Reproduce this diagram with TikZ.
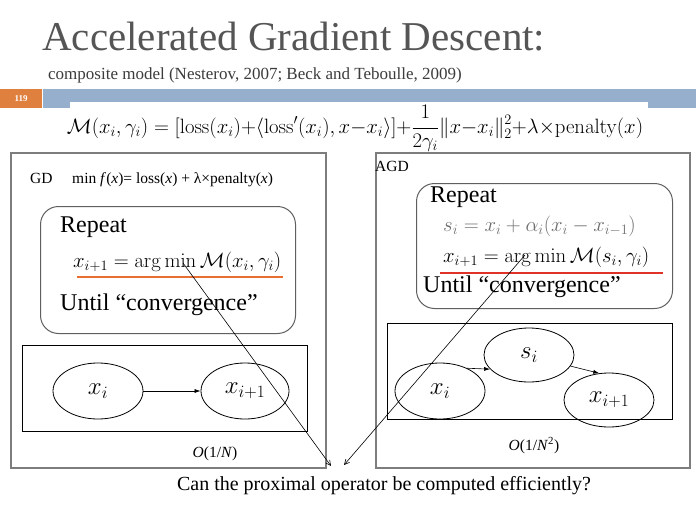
\documentclass[tikz,border=0pt]{standalone}
\usepackage[no-math]{fontspec}
\setmainfont{Liberation Serif}
\usetikzlibrary{arrows.meta,shapes.geometric}
\definecolor{titlegray}{RGB}{85,85,85}
\definecolor{subgray}{RGB}{60,60,60}
\definecolor{barblue}{RGB}{150,175,205}
\definecolor{pnorange}{RGB}{224,128,62}
\definecolor{boxgray}{RGB}{125,125,125}
\definecolor{rbgray}{RGB}{95,95,95}
\definecolor{ulorange}{RGB}{232,110,50}
\definecolor{ulred}{RGB}{225,50,40}
\definecolor{fadegray}{RGB}{110,110,110}
\begin{document}
\begin{tikzpicture}[x=1pt,y=-1pt,
  outerbox/.style={draw=boxgray, line width=1.6pt, anchor=north west, inner sep=0pt},
  repbox/.style={draw=rbgray, line width=1pt, rounded corners=18pt, anchor=north west, inner sep=0pt},
  diagbox/.style={draw=black, line width=0.9pt, anchor=north west, inner sep=0pt},
  elnode/.style={draw=black, ellipse, line width=0.8pt, inner sep=0pt, font=\fontsize{25}{28}\selectfont},
  txt/.style={anchor=base west, inner sep=0pt},
  sm/.style={font=\fontsize{15.5}{18}\selectfont},
  big/.style={font=\fontsize{24}{28}\selectfont},
  mth/.style={font=\fontsize{21.5}{25}\selectfont},
  arr/.style={-{Latex[length=6pt,width=4pt]}, line width=0.6pt},
  longarr/.style={-{Straight Barb[length=5pt,width=5pt]}, line width=0.6pt}
]
\useasboundingbox (0,0) rectangle (696,506);
\fill[white] (0,0) rectangle (696,506);

% header
\node[txt, text=titlegray, font=\fontsize{41}{44}\selectfont] (title) at (42,50) {Accelerated Gradient Descent:};
\node[txt, text=subgray, font=\fontsize{17}{19}\selectfont] (subtitle) at (48,79) {composite model (Nesterov, 2007; Beck and Teboulle, 2009)};
\fill[barblue] (43,89) rectangle (696,108);
\fill[white] (70,102) rectangle (648,108);
\node[fill=pnorange, text=white, font=\fontsize{9}{9}\selectfont\bfseries, minimum width=42pt, minimum height=19pt, inner sep=0pt, anchor=north west] (pagenum) at (0,89) {119};

\node[anchor=base, inner sep=0pt, font=\fontsize{20}{24}\selectfont] (formula) at (355,133)
 {$\mathcal{M}(x_i,\gamma_i)=[\mathrm{loss}(x_i){+}\langle \mathrm{loss}'(x_i),x{-}x_i\rangle]{+}\displaystyle\frac{1}{2\gamma_i}\|x{-}x_i\|_2^2{+}\lambda{\times}\mathrm{penalty}(x)$};

% GD panel
\node[outerbox, minimum width=315pt, minimum height=315pt] (gdbox) at (10,152) {};
\node[txt, sm] (gdlabel) at (30,183) {GD};
\node[txt, sm] (gdobj) at (72,183) {min \textit{f}(\textit{x})= loss(\textit{x}) + λ×penalty(\textit{x})};
\node[repbox, minimum width=255pt, minimum height=127pt] (gdrep) at (40,206) {};
\node[txt, big] (gdrepeat) at (60,232) {Repeat};
\node[txt, mth] (gdupd) at (73,267) {$x_{i+1}=\arg\min\mathcal{M}(x_i,\gamma_i)$};
\draw[ulorange, line width=1.5pt] (77,277) -- (283,277);
\node[txt, big] (gduntil) at (60,310) {Until “convergence”};
\node[diagbox, minimum width=285pt, minimum height=86pt] (gddiag) at (22,345) {};
\node[elnode, minimum width=90pt, minimum height=56pt] (gx) at (98,391) {$x_i$};
\node[elnode, minimum width=88pt, minimum height=56pt] (gx1) at (245,391) {$x_{i+1}$};
\draw[arr] (gx) -- (gx1);
\node[anchor=base, inner sep=0pt, sm] (gdrate) at (215,457) {\textit{O}(1/\textit{N})};

% AGD panel
\node[outerbox, minimum width=314pt, minimum height=315pt] (agdbox) at (375,152) {};
\node[txt, sm] (agdlabel) at (375,171) {AGD};
\node[repbox, minimum width=256pt, minimum height=125pt] (agdrep) at (416,183) {};
\node[txt, big] (agdrepeat) at (430,202) {Repeat};
\node[txt, mth, text=fadegray] (agds) at (443,231) {$s_i=x_i+\alpha_i(x_i-x_{i-1})$};
\node[txt, mth] (agdupd) at (443,262) {$x_{i+1}=\arg\min\mathcal{M}(s_i,\gamma_i)$};
\draw[ulred, line width=1.5pt] (440,273) -- (663,273);
\node[txt, big] (agduntil) at (423,292) {Until “convergence”};
\node[diagbox, minimum width=285pt, minimum height=96pt] (agddiag) at (387,323) {};
\node[elnode, minimum width=90pt, minimum height=56pt] (ax) at (440,391) {$x_i$};
\node[elnode, minimum width=90pt, minimum height=54pt] (as) at (529,355) {$s_i$};
\node[elnode, minimum width=90pt, minimum height=54pt] (ax1) at (609,400) {$x_{i+1}$};
\draw[arr] (ax.40) -- (as.200);
\draw[arr] (as.-15) -- (ax1.110);
\node[anchor=base, inner sep=0pt, sm] (agdrate) at (534,450) {\textit{O}(1/\textit{N}\textsuperscript{2})};

% question and long arrows
\node[anchor=base, inner sep=0pt, font=\fontsize{20}{23}\selectfont] (question) at (384,490) {Can the proximal operator be computed efficiently?};
\coordinate (gdsrc) at (183,263);
\coordinate (agdsrc) at (525,255);
\coordinate (qL) at (331,466);
\coordinate (qR) at (344,465);
\draw[longarr] (gdsrc) -- (qL);
\draw[longarr] (agdsrc) -- (qR);
\end{tikzpicture}
\end{document}
